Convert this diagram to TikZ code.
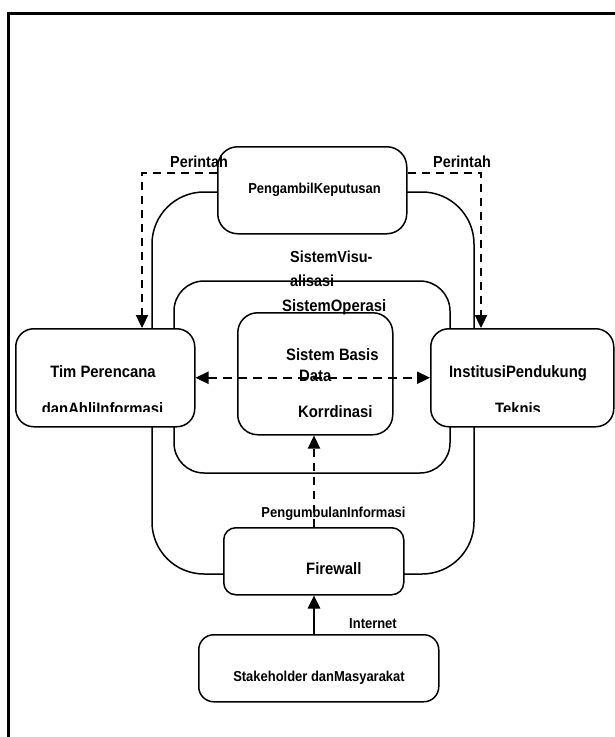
\documentclass[tikz,border=0pt]{standalone}
\usepackage{fontspec}
\setmainfont{Liberation Sans}[FakeStretch=0.9]
\usetikzlibrary{arrows.meta}
\tikzset{
  x=1pt, y=-1pt,
  box/.style={draw, line width=1.5pt, fill=white, rounded corners=#1},
  box/.default=18pt,
  ring/.style={draw, line width=1.5pt, rounded corners=#1},
  dasharrow/.style={line width=2.3pt, dash pattern=on 8pt off 6pt, -{Triangle[length=13pt,width=12pt]}},
  dasharrows/.style={line width=2.3pt, dash pattern=on 9pt off 6pt, {Triangle[length=13pt,width=12pt]}-{Triangle[length=13pt,width=12pt]}},
  solidarrow/.style={line width=2.7pt, -{Triangle[length=13pt,width=12pt]}},
  big/.style={font=\bfseries\fontsize{16.5}{20}\selectfont, inner sep=0pt},
  small/.style={font=\bfseries\fontsize{14.4}{18}\selectfont, inner sep=0pt},
  mid/.style={font=\bfseries\fontsize{16}{20}\selectfont, inner sep=0pt},
}
\begin{document}
\begin{tikzpicture}
\useasboundingbox (0,0) rectangle (615,737);
\clip (0,0) rectangle (615,737);
\fill[white] (0,0) rectangle (615,737);
% frame
\draw[line width=3pt] (8.5,760) -- (8.5,13.5) -- (640,13.5);

% rings
\draw[ring=52pt] (152,192) rectangle (474,574);
\draw[ring=30pt] (174,281) rectangle (450,473);

% dashed command lines (drawn before boxes)
\coordinate (cl) at (142,173);
\coordinate (cr) at (481,173);

% boxes
\node[box=20pt, minimum width=189pt, minimum height=87pt, anchor=north west] (pk) at (217,146) {};
\node[box=18pt, minimum width=179pt, minimum height=98pt, anchor=north west] (tim) at (15,328) {};
\node[box=18pt, minimum width=183pt, minimum height=98pt, anchor=north west] (inst) at (430,328) {};
\node[box=20pt, minimum width=155pt, minimum height=122pt, anchor=north west] (sbd) at (237,312) {};
\node[box=12pt, minimum width=180pt, minimum height=67pt, anchor=north west] (fw) at (223,527) {};
\node[box=15pt, minimum width=240pt, minimum height=67pt, anchor=north west] (sh) at (198,634) {};

% connectors
\draw[dasharrow] (cl -| pk.west) -- (cl) -- (cl |- tim.north);
\draw[dasharrow] (cr -| pk.east) -- (cr) -- (cr |- inst.north);
\draw[dasharrows] (tim.east) -- (inst.west);
\coordinate (cx) at (314,0);
\draw[dasharrow] (cx |- fw.north) -- (cx |- sbd.south);
\draw[solidarrow] (cx |- sh.north) -- (cx |- fw.south);

% texts
\node[mid, anchor=base] (t1) at (199,167) {Perintah};
\node[mid, anchor=base] (t2) at (462,167) {Perintah};
\node[small, anchor=base] (t3) at (314.5,193) {PengambilKeputusan};
\node[mid, anchor=base west] (t4) at (290,262) {SistemVisu-};
\node[mid, anchor=base west] (t5) at (290,286) {alisasi};
\node[big, anchor=base west] (t6) at (282,311) {SistemOperasi};
\node[big, anchor=base west] (t7) at (286,360) {Sistem Basis};
\node[big, anchor=base west] (t8) at (299,381) {Data};
\node[big, anchor=base west] (t9) at (298,417) {Korrdinasi};
\node[big, anchor=base] (t10) at (103,377) {Tim Perencana};
\node[big, anchor=base] (t12) at (518,377) {InstitusiPendukung};
\begin{scope}
\clip (15,395) rectangle (613,411);
\node[big, anchor=base] (t11) at (102.5,414) {danAhliInformasi};
\node[big, anchor=base] (t13) at (518,414) {Teknis};
\end{scope}
\node[small, anchor=base] (t14) at (333.5,517) {PengumbulanInformasi};
\node[big, anchor=base west] (t15) at (306,574) {Firewall};
\node[small, anchor=base] (t16) at (373,628) {Internet};
\node[small, anchor=base] (t17) at (319,681) {Stakeholder danMasyarakat};
\end{tikzpicture}
\end{document}
